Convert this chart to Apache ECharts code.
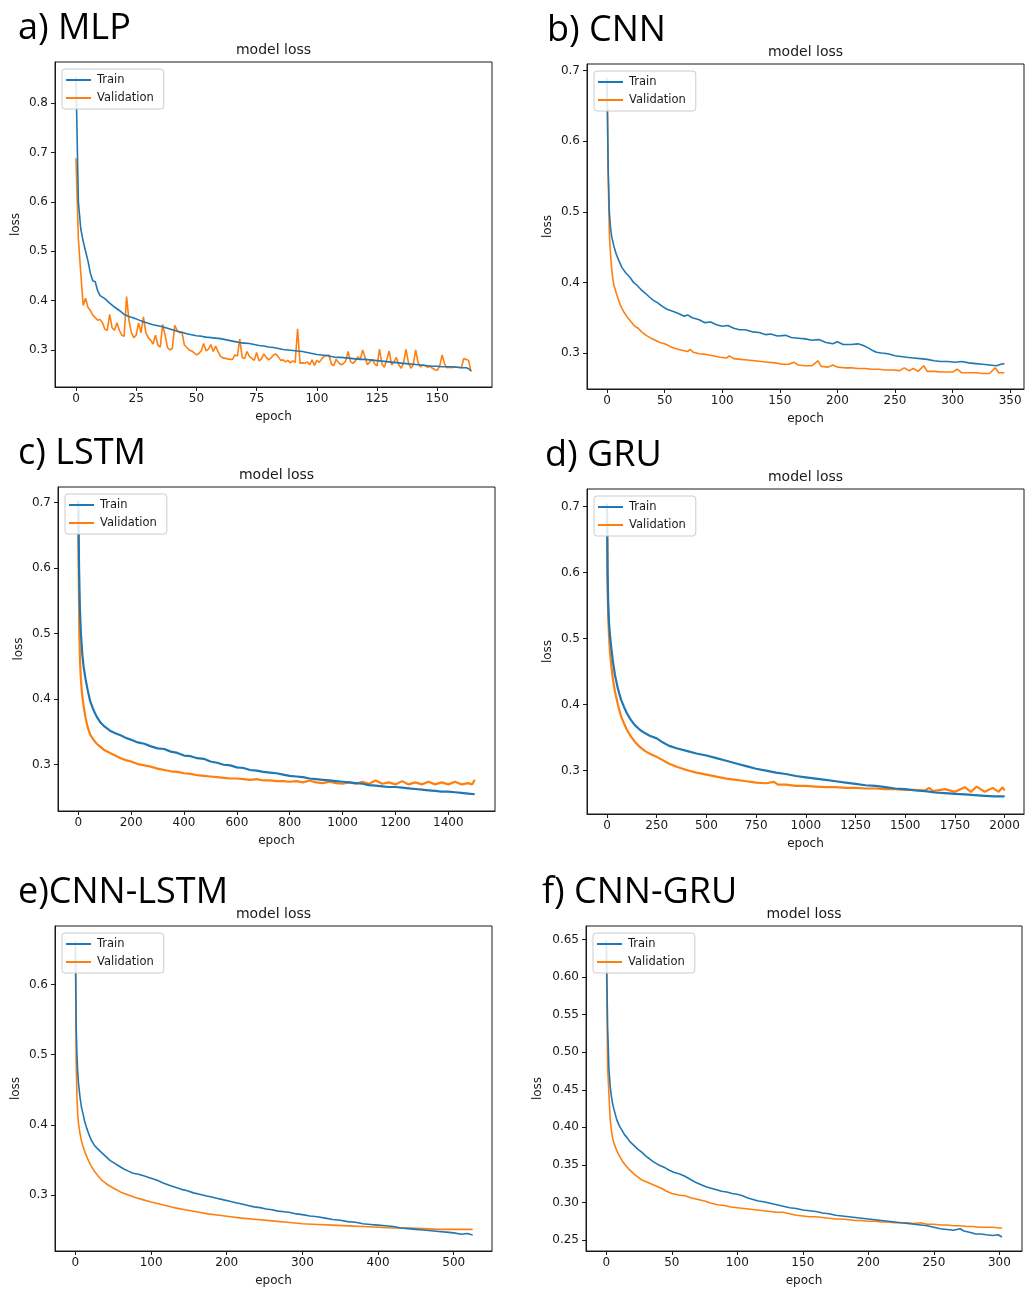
<!DOCTYPE html>
<html lang="en">
<head>
<meta charset="UTF-8">
<title>model loss</title>
<script src="https://cdn.jsdelivr.net/npm/echarts@6/dist/echarts.min.js"></script>
<style>
    html, body { margin: 0; padding: 0; background: #fff; }
    #main { width: 1026px; height: 1290px; }
</style>
</head>
<body>
<div id="main"></div>
<script>
// ---- data: [epoch, loss] ----

// a) MLP
var mlpTrain = [[0,0.853],[1,0.6],[2,0.545],[3,0.52],[4,0.5],[5,0.48],[6,0.455],[7,0.44],[8,0.438],[9,0.42],[10,0.41],[11,0.407],[12,0.404],[14,0.395],[16,0.387],[18,0.38],[20,0.372],[22,0.368],[24,0.365],[26,0.361],[28,0.357],[30,0.354],[32,0.351],[34,0.349],[36,0.347],[38,0.344],[40,0.341],[42,0.338],[44,0.336],[46,0.333],[48,0.331],[50,0.329],[52,0.328],[54,0.326],[56,0.325],[58,0.324],[60,0.323],[62,0.321],[64,0.319],[66,0.317],[68,0.315],[70,0.314],[72,0.313],[74,0.311],[76,0.309],[78,0.308],[80,0.306],[82,0.305],[84,0.303],[86,0.301],[88,0.3],[90,0.299],[92,0.298],[94,0.297],[96,0.295],[98,0.293],[100,0.291],[102,0.29],[104,0.289],[106,0.287],[108,0.285],[110,0.285],[112,0.284],[114,0.283],[116,0.282],[118,0.281],[120,0.281],[122,0.28],[124,0.279],[126,0.278],[128,0.277],[130,0.276],[132,0.275],[134,0.274],[136,0.273],[138,0.272],[140,0.271],[142,0.27],[144,0.269],[146,0.268],[148,0.267],[150,0.267],[152,0.266],[154,0.266],[156,0.266],[158,0.265],[160,0.264],[162,0.264],[163,0.262],[164,0.258]];
// validation loss, one value per epoch (0..164)
var mlpValLoss = [0.688,0.525,0.455,0.39,0.405,0.386,0.38,0.37,0.366,0.36,
    0.362,0.355,0.342,0.34,0.372,0.345,0.34,0.355,0.34,0.33,
    0.328,0.408,0.36,0.335,0.325,0.33,0.355,0.335,0.367,0.335,
    0.325,0.32,0.312,0.33,0.31,0.306,0.352,0.33,0.305,0.3,
    0.303,0.35,0.34,0.335,0.336,0.31,0.305,0.3,0.298,0.295,
    0.29,0.293,0.298,0.313,0.298,0.302,0.311,0.297,0.308,0.296,
    0.287,0.284,0.283,0.282,0.281,0.281,0.29,0.288,0.322,0.285,
    0.283,0.297,0.287,0.283,0.279,0.295,0.278,0.282,0.292,0.285,
    0.28,0.284,0.29,0.292,0.286,0.279,0.28,0.276,0.279,0.274,
    0.278,0.275,0.343,0.273,0.274,0.273,0.276,0.27,0.28,0.269,
    0.279,0.275,0.282,0.287,0.289,0.29,0.272,0.268,0.281,0.275,
    0.27,0.272,0.278,0.297,0.276,0.273,0.278,0.286,0.281,0.3,
    0.285,0.27,0.276,0.281,0.272,0.268,0.302,0.272,0.265,0.28,
    0.298,0.27,0.275,0.285,0.27,0.263,0.274,0.301,0.275,0.263,
    0.27,0.3,0.275,0.266,0.27,0.268,0.265,0.267,0.263,0.26,
    0.259,0.268,0.29,0.272,0.264,0.265,0.264,0.266,0.265,0.265,
    0.264,0.283,0.281,0.279,0.256];
var mlpXTicks = [0, 25, 50, 75, 100, 125, 150];
var mlpYTicks = [0.3, 0.4, 0.5, 0.6, 0.7, 0.8];

// b) CNN
var cnnTrain = [[0,0.69],[1,0.56],[2,0.5],[3,0.478],[4,0.465],[6,0.451],[8,0.44],[10,0.432],[13,0.421],[16,0.414],[20,0.407],[23,0.4],[26,0.396],[30,0.389],[33,0.385],[37,0.379],[40,0.375],[44,0.371],[48,0.366],[52,0.362],[57,0.359],[62,0.356],[67,0.352],[70,0.354],[74,0.35],[80,0.347],[85,0.343],[90,0.344],[95,0.34],[100,0.338],[105,0.339],[110,0.335],[115,0.333],[120,0.333],[126,0.33],[132,0.329],[138,0.326],[142,0.327],[148,0.324],[155,0.325],[160,0.322],[166,0.321],[172,0.32],[178,0.318],[184,0.319],[190,0.315],[196,0.313],[200,0.316],[205,0.312],[212,0.312],[218,0.313],[222,0.311],[226,0.308],[230,0.304],[234,0.301],[238,0.3],[244,0.299],[250,0.296],[255,0.295],[260,0.294],[266,0.293],[272,0.292],[278,0.291],[284,0.289],[290,0.288],[296,0.288],[302,0.287],[308,0.288],[314,0.286],[320,0.285],[326,0.284],[332,0.283],[338,0.282],[342,0.284],[345,0.285]];
var cnnVal = [[0,0.685],[1,0.55],[2,0.47],[3,0.44],[4,0.42],[5,0.405],[6,0.396],[8,0.385],[10,0.375],[12,0.366],[15,0.357],[18,0.35],[21,0.344],[24,0.338],[27,0.335],[30,0.33],[34,0.325],[38,0.321],[42,0.318],[46,0.315],[50,0.313],[55,0.309],[60,0.306],[65,0.304],[70,0.302],[72,0.305],[75,0.301],[80,0.299],[86,0.298],[92,0.296],[98,0.294],[104,0.293],[106,0.296],[110,0.292],[116,0.291],[122,0.29],[128,0.289],[134,0.288],[140,0.287],[146,0.286],[152,0.284],[158,0.284],[162,0.287],[166,0.283],[172,0.282],[178,0.282],[183,0.289],[186,0.281],[192,0.28],[196,0.283],[200,0.28],[206,0.279],[212,0.279],[218,0.278],[224,0.278],[230,0.277],[236,0.277],[242,0.276],[248,0.276],[254,0.275],[258,0.279],[262,0.275],[266,0.278],[270,0.274],[275,0.282],[278,0.274],[284,0.274],[290,0.273],[296,0.273],[300,0.273],[304,0.277],[308,0.272],[314,0.272],[320,0.272],[326,0.271],[332,0.271],[337,0.279],[340,0.272],[345,0.272]];
var cnnXTicks = [0, 50, 100, 150, 200, 250, 300, 350];
var cnnYTicks = [0.3, 0.4, 0.5, 0.6, 0.7];

// c) LSTM
var lstmTrain = [[0,0.703],[3,0.6],[6,0.54],[10,0.5],[15,0.47],[20,0.45],[27,0.432],[35,0.415],[45,0.397],[58,0.383],[70,0.373],[85,0.364],[100,0.358],[120,0.352],[140,0.348],[160,0.345],[180,0.341],[200,0.338],[225,0.334],[250,0.332],[275,0.328],[300,0.325],[325,0.324],[350,0.32],[375,0.318],[400,0.314],[425,0.313],[450,0.31],[475,0.309],[500,0.305],[525,0.303],[550,0.3],[575,0.299],[600,0.296],[625,0.295],[650,0.292],[675,0.291],[700,0.289],[725,0.288],[750,0.287],[775,0.285],[800,0.283],[825,0.282],[850,0.281],[875,0.279],[900,0.278],[925,0.277],[950,0.276],[975,0.275],[1000,0.274],[1025,0.273],[1050,0.272],[1075,0.271],[1100,0.269],[1125,0.268],[1150,0.267],[1175,0.266],[1200,0.266],[1225,0.265],[1250,0.264],[1275,0.263],[1300,0.262],[1325,0.261],[1350,0.26],[1375,0.259],[1400,0.259],[1425,0.258],[1450,0.257],[1475,0.256],[1500,0.255]];
var lstmVal = [[0,0.683],[2,0.58],[4,0.5],[7,0.455],[10,0.43],[14,0.409],[20,0.39],[27,0.373],[35,0.358],[45,0.346],[58,0.338],[70,0.332],[85,0.327],[100,0.322],[120,0.318],[140,0.314],[160,0.31],[180,0.307],[200,0.305],[225,0.301],[250,0.299],[275,0.297],[300,0.294],[325,0.292],[350,0.29],[375,0.289],[400,0.287],[425,0.286],[450,0.284],[475,0.283],[500,0.282],[525,0.281],[550,0.28],[575,0.279],[600,0.279],[625,0.278],[650,0.277],[675,0.278],[700,0.276],[725,0.276],[750,0.275],[775,0.275],[800,0.274],[825,0.275],[850,0.273],[875,0.276],[900,0.273],[925,0.272],[950,0.274],[975,0.272],[1000,0.271],[1025,0.273],[1050,0.271],[1075,0.274],[1100,0.271],[1125,0.276],[1150,0.271],[1175,0.273],[1200,0.27],[1225,0.275],[1250,0.27],[1275,0.273],[1300,0.27],[1325,0.274],[1350,0.27],[1375,0.273],[1400,0.27],[1425,0.274],[1450,0.27],[1475,0.272],[1490,0.27],[1500,0.277]];
var lstmXTicks = [0, 200, 400, 600, 800, 1000, 1200, 1400];
var lstmYTicks = [0.3, 0.4, 0.5, 0.6, 0.7];

// d) GRU
var gruTrain = [[0,0.705],[3,0.6],[6,0.555],[10,0.525],[15,0.505],[22,0.485],[30,0.465],[40,0.445],[55,0.424],[70,0.408],[85,0.397],[100,0.387],[120,0.377],[140,0.369],[165,0.362],[190,0.357],[215,0.353],[250,0.349],[280,0.343],[310,0.338],[350,0.334],[400,0.33],[450,0.326],[500,0.323],[550,0.319],[600,0.315],[650,0.311],[700,0.307],[750,0.303],[800,0.3],[850,0.297],[900,0.295],[950,0.292],[1000,0.29],[1050,0.288],[1100,0.286],[1150,0.284],[1200,0.282],[1250,0.28],[1300,0.278],[1350,0.277],[1400,0.275],[1450,0.273],[1500,0.272],[1550,0.27],[1600,0.269],[1650,0.267],[1700,0.266],[1750,0.265],[1800,0.264],[1850,0.263],[1900,0.262],[1950,0.261],[2000,0.261]];
var gruVal = [[0,0.695],[3,0.58],[6,0.535],[10,0.505],[15,0.48],[22,0.458],[30,0.438],[40,0.42],[55,0.4],[70,0.383],[85,0.372],[100,0.362],[120,0.352],[140,0.344],[165,0.336],[190,0.33],[220,0.325],[250,0.321],[280,0.316],[310,0.311],[350,0.306],[400,0.301],[450,0.297],[500,0.294],[550,0.291],[600,0.288],[650,0.286],[700,0.284],[750,0.282],[800,0.281],[840,0.283],[860,0.279],[900,0.279],[950,0.277],[1000,0.277],[1050,0.276],[1100,0.275],[1150,0.275],[1200,0.274],[1250,0.274],[1300,0.273],[1350,0.273],[1400,0.272],[1450,0.272],[1500,0.271],[1550,0.271],[1600,0.27],[1620,0.274],[1640,0.269],[1700,0.272],[1750,0.268],[1800,0.275],[1830,0.268],[1860,0.276],[1900,0.268],[1940,0.274],[1970,0.268],[1990,0.275],[2000,0.27]];
var gruXTicks = [0, 250, 500, 750, 1000, 1250, 1500, 1750, 2000];
var gruYTicks = [0.3, 0.4, 0.5, 0.6, 0.7];

// e) CNN-LSTM
var cnnLstmTrain = [[0,0.663],[1,0.54],[2,0.5],[3,0.476],[4,0.46],[6,0.44],[8,0.425],[10,0.416],[12,0.406],[15,0.395],[18,0.386],[21,0.378],[25,0.371],[30,0.365],[35,0.36],[40,0.355],[46,0.349],[52,0.345],[58,0.341],[64,0.337],[70,0.334],[76,0.331],[82,0.33],[88,0.328],[94,0.326],[100,0.324],[108,0.321],[116,0.317],[124,0.314],[132,0.311],[140,0.308],[148,0.306],[156,0.303],[164,0.301],[172,0.299],[180,0.297],[188,0.295],[196,0.293],[204,0.291],[212,0.289],[220,0.287],[228,0.285],[236,0.283],[244,0.282],[252,0.28],[260,0.279],[268,0.277],[276,0.276],[284,0.275],[292,0.273],[300,0.272],[310,0.27],[320,0.269],[330,0.267],[340,0.265],[350,0.264],[360,0.262],[370,0.261],[380,0.259],[390,0.258],[400,0.257],[410,0.256],[420,0.255],[430,0.253],[440,0.252],[450,0.251],[460,0.25],[470,0.249],[480,0.248],[490,0.247],[500,0.246],[510,0.244],[518,0.245],[525,0.243]];
var cnnLstmVal = [[0,0.654],[1,0.49],[2,0.44],[3,0.416],[4,0.402],[6,0.388],[8,0.377],[10,0.369],[13,0.36],[16,0.352],[20,0.343],[25,0.334],[30,0.327],[36,0.32],[42,0.315],[50,0.31],[60,0.304],[70,0.3],[80,0.296],[90,0.293],[100,0.29],[115,0.286],[130,0.282],[145,0.279],[160,0.276],[175,0.273],[190,0.271],[205,0.269],[220,0.267],[240,0.265],[260,0.263],[280,0.261],[300,0.259],[320,0.258],[340,0.257],[360,0.256],[380,0.255],[400,0.254],[420,0.253],[440,0.253],[460,0.252],[480,0.251],[500,0.251],[525,0.251]];
var cnnLstmXTicks = [0, 100, 200, 300, 400, 500];
var cnnLstmYTicks = [0.3, 0.4, 0.5, 0.6];

// f) CNN-GRU
var cnnGruTrain = [[0,0.649],[1,0.534],[2,0.478],[3,0.454],[4,0.44],[5,0.43],[6,0.423],[8,0.41],[10,0.402],[12,0.396],[14,0.39],[16,0.386],[18,0.381],[21,0.376],[24,0.371],[27,0.367],[30,0.362],[33,0.358],[36,0.354],[40,0.35],[44,0.347],[48,0.343],[52,0.34],[56,0.338],[60,0.335],[64,0.331],[68,0.327],[72,0.324],[76,0.321],[80,0.319],[84,0.317],[88,0.315],[92,0.314],[96,0.312],[100,0.311],[104,0.309],[108,0.306],[112,0.304],[116,0.302],[120,0.301],[125,0.299],[130,0.297],[135,0.295],[140,0.293],[145,0.292],[150,0.29],[155,0.289],[160,0.288],[165,0.286],[170,0.285],[175,0.283],[180,0.282],[185,0.281],[190,0.28],[195,0.279],[200,0.278],[205,0.277],[210,0.276],[215,0.275],[220,0.274],[225,0.273],[230,0.272],[235,0.271],[240,0.27],[245,0.269],[250,0.267],[255,0.265],[260,0.264],[265,0.263],[270,0.265],[273,0.262],[278,0.26],[282,0.258],[286,0.258],[290,0.257],[295,0.256],[299,0.257],[302,0.254]];
var cnnGruVal = [[0,0.645],[1,0.48],[2,0.445],[3,0.41],[4,0.395],[5,0.384],[6,0.378],[8,0.369],[10,0.362],[12,0.356],[14,0.351],[16,0.347],[18,0.343],[21,0.338],[24,0.334],[27,0.33],[30,0.328],[34,0.325],[38,0.322],[42,0.319],[46,0.315],[50,0.312],[55,0.31],[60,0.309],[65,0.306],[70,0.304],[75,0.302],[80,0.299],[85,0.297],[90,0.296],[95,0.294],[100,0.293],[105,0.292],[110,0.291],[115,0.29],[120,0.289],[125,0.288],[130,0.287],[135,0.287],[140,0.285],[145,0.283],[150,0.282],[155,0.281],[160,0.281],[165,0.28],[170,0.279],[175,0.278],[180,0.278],[185,0.277],[190,0.276],[195,0.276],[200,0.275],[205,0.275],[210,0.274],[215,0.274],[220,0.273],[225,0.273],[230,0.273],[235,0.272],[240,0.273],[245,0.271],[250,0.271],[255,0.27],[260,0.27],[265,0.269],[270,0.269],[275,0.268],[280,0.268],[285,0.267],[290,0.267],[295,0.267],[300,0.266],[302,0.266]];
var cnnGruXTicks = [0, 50, 100, 150, 200, 250, 300];
var cnnGruYTicks = [0.25, 0.30, 0.35, 0.40, 0.45, 0.50, 0.55, 0.60, 0.65];

var mlpVal = mlpValLoss.map(function (v, i) { return [i, v]; });

// ---- layout (pixels) for each of the six panels ----
var panels = [
    { label: 'a) MLP',     train: mlpTrain,     val: mlpVal,     xTicks: mlpXTicks,     yTicks: mlpYTicks,
      left: 55,  top: 62,  width: 437, height: 325, xMin: -8.7,  xMax: 172.7,  yMin: 0.2251, yMax: 0.883,  dec: 1, lw: 1.6, labelX: 18,  yGap: 33 },
    { label: 'b) CNN',     train: cnnTrain,     val: cnnVal,     xTicks: cnnXTicks,     yTicks: cnnYTicks,
      left: 587, top: 64,  width: 437, height: 325, xMin: -17.4, xMax: 362,    yMin: 0.249,  yMax: 0.7095, dec: 1, lw: 1.6, labelX: 547, yGap: 33 },
    { label: 'c) LSTM',    train: lstmTrain,    val: lstmVal,    xTicks: lstmXTicks,    yTicks: lstmYTicks,
      left: 58,  top: 487, width: 437, height: 324, xMin: -76.7, xMax: 1576.6, yMin: 0.2294, yMax: 0.7238, dec: 1, lw: 2.2, labelX: 18,  yGap: 33 },
    { label: 'd) GRU',     train: gruTrain,     val: gruVal,     xTicks: gruXTicks,     yTicks: gruYTicks,
      left: 587, top: 489, width: 437, height: 325, xMin: -100.6, xMax: 2097.6, yMin: 0.2344, yMax: 0.7268, dec: 1, lw: 2.2, labelX: 545, yGap: 33 },
    { label: 'e)CNN-LSTM', train: cnnLstmTrain, val: cnnLstmVal, xTicks: cnnLstmXTicks, yTicks: cnnLstmYTicks,
      left: 55,  top: 926, width: 437, height: 325, xMin: -27,   xMax: 550.6,  yMin: 0.2201, yMax: 0.6836, dec: 1, lw: 1.6, labelX: 18,  yGap: 33 },
    { label: 'f) CNN-GRU', train: cnnGruTrain,  val: cnnGruVal,  xTicks: cnnGruXTicks,  yTicks: cnnGruYTicks,
      left: 586, top: 926, width: 436, height: 325, xMin: -15.5, xMax: 317.3,  yMin: 0.2354, yMax: 0.6681, dec: 2, lw: 1.6, labelX: 542, yGap: 42 }
];

var TRAIN_COLOR = '#1f77b4';
var VAL_COLOR = '#ff7f0e';
var INK = '#1a1a1a';
var FONT = 'DejaVu Sans';

var grids = [], xAxes = [], yAxes = [], series = [], legends = [], graphics = [];

panels.forEach(function (p, i) {
    grids.push({
        left: p.left, top: p.top, width: p.width, height: p.height,
        show: true, borderColor: INK, borderWidth: 1, backgroundColor: '#fff'
    });
    xAxes.push({
        type: 'value', gridIndex: i, min: p.xMin, max: p.xMax,
        name: 'epoch', nameLocation: 'middle', nameGap: 24,
        nameTextStyle: { color: INK, fontFamily: FONT, fontSize: 12 },
        axisLine: { show: true, onZero: false, lineStyle: { color: INK, width: 1 } },
        axisTick: { show: true, length: 4, inside: false, customValues: p.xTicks, lineStyle: { color: INK } },
        axisLabel: {
            customValues: p.xTicks, color: INK, fontFamily: FONT, fontSize: 12, margin: 6,
            formatter: function (v) { return String(v); }
        },
        splitLine: { show: false }
    });
    yAxes.push({
        type: 'value', gridIndex: i, min: p.yMin, max: p.yMax,
        name: 'loss', nameLocation: 'middle', nameGap: p.yGap, nameRotate: 90,
        nameTextStyle: { color: INK, fontFamily: FONT, fontSize: 12 },
        axisLine: { show: true, onZero: false, lineStyle: { color: INK, width: 1 } },
        axisTick: { show: true, length: 4, inside: false, customValues: p.yTicks, lineStyle: { color: INK } },
        axisLabel: {
            customValues: p.yTicks, color: INK, fontFamily: FONT, fontSize: 12, margin: 7,
            formatter: (function (d) { return function (v) { return v.toFixed(d); }; })(p.dec)
        },
        splitLine: { show: false }
    });
    series.push({
        name: 'Train', type: 'line', xAxisIndex: i, yAxisIndex: i, data: p.train,
        showSymbol: false, symbol: 'none', color: TRAIN_COLOR,
        lineStyle: { color: TRAIN_COLOR, width: p.lw }, z: 3
    });
    series.push({
        name: 'Validation', type: 'line', xAxisIndex: i, yAxisIndex: i, data: p.val,
        showSymbol: false, symbol: 'none', color: VAL_COLOR,
        lineStyle: { color: VAL_COLOR, width: p.lw }, z: 2
    });
    legends.push({
        data: ['Train', 'Validation'], orient: 'vertical',
        left: p.left + 7, top: p.top + 7,
        icon: 'rect', itemWidth: 25, itemHeight: 2, itemGap: 4,
        padding: [4, 10, 4, 4],
        backgroundColor: 'rgba(255,255,255,0.85)', borderColor: '#cccccc', borderWidth: 1, borderRadius: 3,
        selectedMode: false,
        textStyle: { color: INK, fontFamily: FONT, fontSize: 11.5, lineHeight: 14, padding: [0, 0, 0, 1] }
    });
    graphics.push({
        type: 'text',
        style: {
            x: p.left + p.width / 2, y: p.top - 12, text: 'model loss',
            font: '14px "DejaVu Sans"', fill: INK, align: 'center', verticalAlign: 'middle'
        }
    });
    graphics.push({
        type: 'text',
        style: {
            x: p.labelX, y: p.top - 33, text: p.label,
            font: '36px "Open Sans"', fill: '#000', align: 'left', verticalAlign: 'middle'
        }
    });
});

var chart = echarts.init(document.getElementById('main'), null, { renderer: 'canvas' });
chart.setOption({
    animation: false,
    backgroundColor: '#ffffff',
    grid: grids,
    xAxis: xAxes,
    yAxis: yAxes,
    legend: legends,
    series: series,
    graphic: graphics
});
</script>
</body>
</html>
